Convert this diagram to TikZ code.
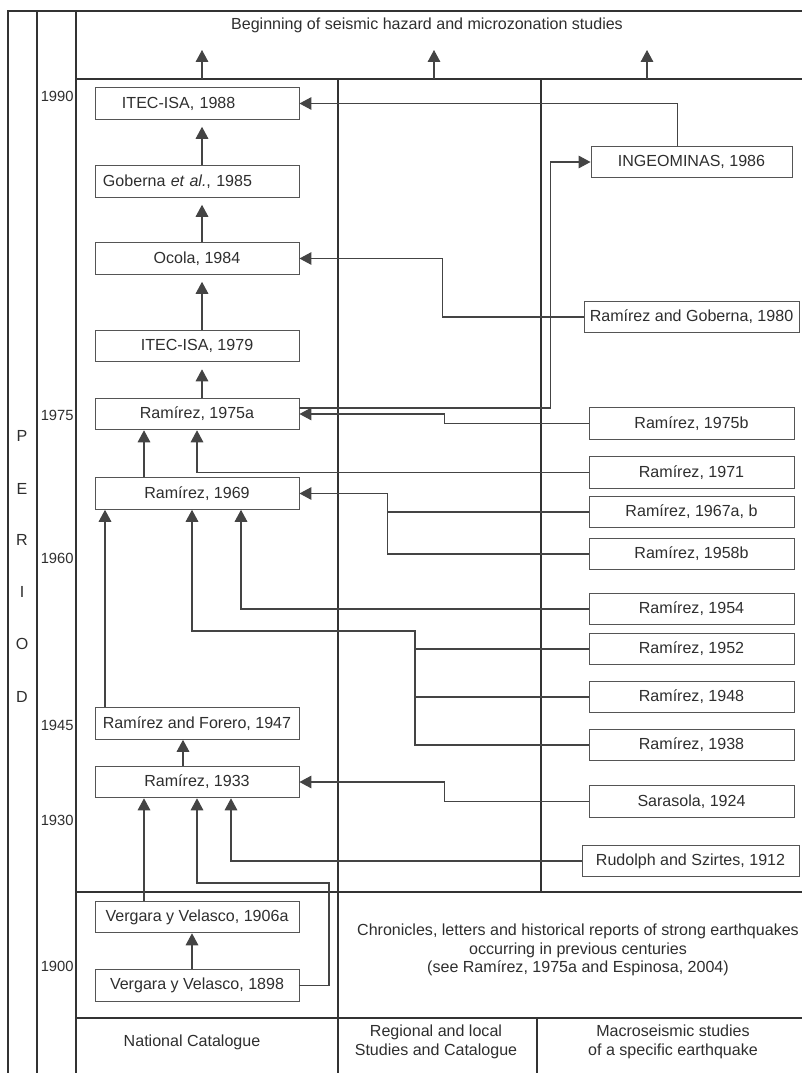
\documentclass[tikz,border=0pt]{standalone}
\usepackage{fontspec}
\setmainfont{Liberation Sans}
\usepackage{tikz}
\usetikzlibrary{arrows.meta,calc}
\definecolor{framegray}{HTML}{333333}
\definecolor{linegray}{HTML}{444444}
\definecolor{boxgray}{HTML}{555555}
\definecolor{txtgray}{HTML}{2E2E2E}
\tikzset{
  cat/.style={draw=boxgray,line width=.8pt,minimum width=6.12cm,minimum height=.95cm,inner sep=0pt},
  catl/.style={cat,text width=5.64cm,align=left},
  mac/.style={draw=boxgray,line width=.8pt,minimum width=6.15cm,minimum height=.95cm,inner sep=0pt},
  link/.style={draw=linegray,line width=.9pt},
  arr/.style={link,-{Triangle[width=.38cm,length=.36cm]}},
  gap/.style={arr,shorten >=.21cm},
  frame/.style={draw=framegray,line width=1.4pt}
}
\begin{document}
\begin{tikzpicture}[x=.03cm,y=-.03cm,every node/.style={font=\fontsize{13.7}{16}\selectfont,text=txtgray}]
\useasboundingbox(0,0)rectangle(802,1073);
%frame
\draw[frame](8,1073)--(8,11)--(802,11);
\draw[frame](37,11)--(37,1073);
\draw[frame](76,11)--(76,1073);
\draw[frame](76,79)--(802,79);
\draw[frame](338,79)--(338,1073);
\draw[frame](541,79)--(541,892);
\draw[frame](76,892)--(802,892);
\draw[frame](76,1018)--(802,1018);
\draw[frame](537,1018)--(537,1073);
%period and years
\foreach \l/\y in {P/436,E/489,R/540,I/592,O/644,D/697}{
\node at(22,\y){\l};
}
\foreach \yr/\y in {1990/96,1975/415,1960/558,1945/725,1930/820,1900/966}{
\node[anchor=east,inner sep=1pt,font=\fontsize{12.6}{15}\selectfont]at(75,\y){\yr};
}
%titles
\node(title)at(427,25){Beginning of seismic hazard and microzonation studies};
\foreach \x in {202,434,647}{
\draw[arr](\x,79)--(\x,50);
}
\node[align=center](chron)at(578,950){Chronicles, letters and historical reports of strong earthquakes\\occurring in previous centuries\\(see Ramírez, 1975a and Espinosa, 2004)};
\node(natcat)at(192,1042){National Catalogue};
\node[align=center](regcat)at(436,1042){Regional and local\\Studies and Catalogue};
\node[align=center](macro)at(673,1042){Macroseismic studies\\of a specific earthquake};
%national catalogue
\node[catl](itec88)at(197,103.5){\hspace*{.57cm}ITEC-ISA, 1988};
\node[catl](gob85)at(197,181.5){Goberna \textit{et al.}, 1985};
\node[cat](oco84)at(197,258.5){Ocola, 1984};
\node[cat](itec79)at(197,346){ITEC-ISA, 1979};
\node[cat](ram75a)at(197,414){Ramírez, 1975a};
\node[cat](ram69)at(197,493.5){Ramírez, 1969};
\node[cat](rf47)at(197,723.5){Ramírez and Forero, 1947};
\node[cat](ram33)at(197,782){Ramírez, 1933};
\node[cat](vv06)at(197,917){Vergara y Velasco, 1906a};
\node[cat](vv98)at(197,985.5){Vergara y Velasco, 1898};
%macroseismic studies
\node[mac,minimum width=6.03cm](ing86)at(691.5,162){INGEOMINAS, 1986};
\node[mac,minimum width=6.45cm](rg80)at(691.5,317){Ramírez and Goberna, 1980};
\node[mac](ram75b)at(691.5,423.5){Ramírez, 1975b};
\node[mac](ram71)at(691.5,472.5){Ramírez, 1971};
\node[mac](ram67)at(691.5,512){Ramírez, 1967a, b};
\node[mac](ram58)at(691.5,554){Ramírez, 1958b};
\node[mac](ram54)at(691.5,609){Ramírez, 1954};
\node[mac](ram52)at(691.5,649){Ramírez, 1952};
\node[mac](ram48)at(691.5,697){Ramírez, 1948};
\node[mac](ram38)at(691.5,745){Ramírez, 1938};
\node[mac](sar24)at(691.5,801.5){Sarasola, 1924};
\node[mac,minimum width=6.51cm](rs12)at(690.5,861){Rudolph and Szirtes, 1912};
%main chain
\draw[gap]($(ram75a.north)+(5,0)$)--($(itec79.south)+(5,0)$);
\draw[gap]($(itec79.north)+(5,0)$)--($(oco84.south)+(5,0)$);
\draw[gap]($(oco84.north)+(5,0)$)--($(gob85.south)+(5,0)$);
\draw[gap]($(gob85.north)+(5,0)$)--($(itec88.south)+(5,0)$);
\draw[arr]($(ram69.north)+(-53,0)$)--($(ram75a.south)+(-53,0)$);
\draw[arr]($(rf47.north)+(-92,0)$)--($(ram69.south)+(-92,0)$);
\draw[arr]($(ram33.north)+(-14,0)$)--($(rf47.south)+(-14,0)$);
\draw[arr]($(vv06.north)+(-53,0)$)--($(ram33.south)+(-53,0)$);
\draw[arr]($(vv98.north)+(-5,0)$)--($(vv06.south)+(-5,0)$);
%links from the right
\draw[arr]([xshift=-.42cm]ing86.north)|-(itec88.east);
\draw[arr]([yshift=.18cm]ram75a.east)-|($(ing86.west)+(-40,0)$)--(ing86.west);
\draw[arr](rg80.west)-|($(oco84.east)+(143,0)$)--(oco84.east);
\draw[arr](ram75b.west)-|($(ram75a.east)+(145,0)$)--(ram75a.east);
\draw[arr](ram71.west)-|(ram75a.south);
\coordinate(j67)at($(ram69.east)+(88,0)$);
\draw[arr](ram58.west)-|(j67)--(ram69.east);
\draw[link](ram67.west)--(ram67.west-|j67);
\draw[arr](ram54.west)-|($(ram69.south)+(44,0)$);
\coordinate(k1)at(415,631);
\draw[arr](ram38.west)-|(k1)-|($(ram69.south)+(-5,0)$);
\draw[link](ram52.west)--(ram52.west-|k1);
\draw[link](ram48.west)--(ram48.west-|k1);
\draw[arr](sar24.west)-|($(ram33.east)+(145,0)$)--(ram33.east);
\draw[arr](rs12.west)-|($(ram33.south)+(34,0)$);
\coordinate(k2)at(329,883);
\draw[arr](vv98.east)-|(k2)-|(ram33.south);
\end{tikzpicture}
\end{document}
